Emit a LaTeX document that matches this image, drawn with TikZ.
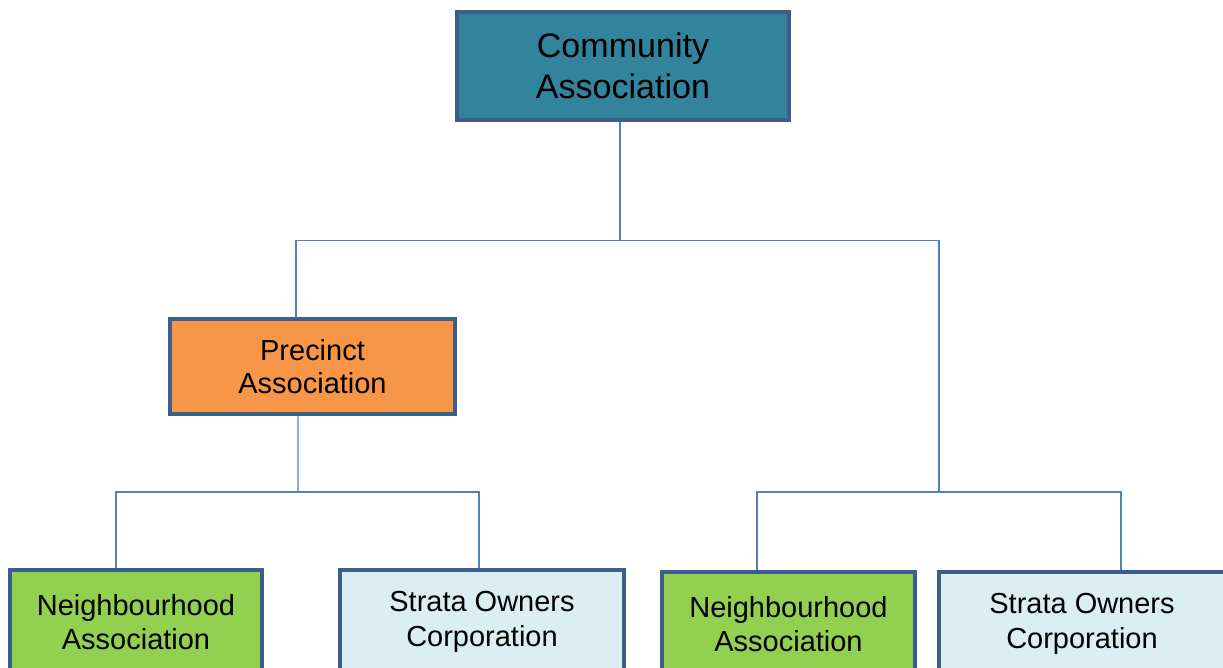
\documentclass[tikz,border=0pt]{standalone}
\usepackage{fontspec}
\setmainfont{Liberation Sans}
\usetikzlibrary{math}

\definecolor{boxEdge}{RGB}{59,94,139}
\definecolor{linkBlue}{RGB}{79,129,189}
\definecolor{teal}{RGB}{49,132,155}
\definecolor{orange}{RGB}{247,150,70}
\definecolor{green}{RGB}{146,208,80}
\definecolor{paleBlue}{RGB}{219,238,244}

\tikzset{
    unit/.style={draw=boxEdge, line width=2.6pt, align=center, inner sep=0pt},
    link/.style={draw=linkBlue, line width=0.8pt},
}

\begin{document}
\begin{tikzpicture}[x=0.02cm, y=-0.02cm]

\useasboundingbox (0,0) rectangle (1223,668);

% Sizes of the boxes
\tikzmath{
    \topW = 332*0.02;
    \topH = 108*0.02;
    \midW = 285*0.02;
    \midH = 95*0.02;
    \lowH = 104*0.02;
}

% Draws the boxes
\node[unit, fill=teal, minimum width=\topW cm, minimum height=\topH cm,
    font=\fontsize{19.4}{23.3}\selectfont] (comm) at (623,66)
    {Community\\Association};
\node[unit, fill=orange, minimum width=\midW cm, minimum height=\midH cm,
    font=\fontsize{16.5}{19}\selectfont] (prec) at (312.5,366.5)
    {Precinct\\Association};

\foreach \name/\x/\y/\w/\col/\txt in {
    nbA/136/622/252/green/{Neighbourhood\\Association},
    soA/482/622/284/paleBlue/{Strata Owners\\Corporation},
    nbB/788.5/624/253/green/{Neighbourhood\\Association},
    soB/1082/624/286/paleBlue/{Strata Owners\\Corporation}} {
    \node[unit, fill=\col, minimum width=\w*0.02cm, minimum height=\lowH cm,
        font=\fontsize{16.5}{19.5}\selectfont] (\name) at (\x,\y) {\txt};
}

% Draws the joining lines
\coordinate (busL) at (298,492);
\coordinate (busR) at (939,492);

\draw[link] ([xshift=-0.06cm]comm.south) -- ++(0,118) -| ([xshift=-0.33cm]prec.north);
\draw[link] ([xshift=-0.06cm]comm.south) -- ++(0,118) -| (busR);
\draw[link] ([xshift=-0.29cm]prec.south) -- (busL);
\draw[link] (busL) -| ([xshift=-0.4cm]nbA.north);
\draw[link] (busL) -| ([xshift=-0.06cm]soA.north);
\draw[link] (busR) -| ([xshift=-0.63cm]nbB.north);
\draw[link] (busR) -| ([xshift=0.78cm]soB.north);

\end{tikzpicture}
\end{document}
